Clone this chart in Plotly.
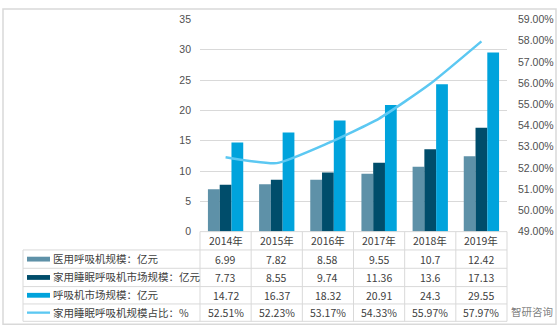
import plotly.graph_objects as go

years = ["2014年", "2015年", "2016年", "2017年", "2018年", "2019年"]
medical = [6.99, 7.82, 8.58, 9.55, 10.7, 12.42]
home_sleep = [7.73, 8.55, 9.74, 11.36, 13.6, 17.13]
market = [14.72, 16.37, 18.32, 20.91, 24.3, 29.55]
share = [52.51, 52.23, 53.17, 54.33, 55.97, 57.97]

names = ["医用呼吸机规模：亿元", "家用睡眠呼吸机市场规模：亿元", "呼吸机市场规模：亿元", "家用睡眠呼吸机规模占比：%"]
colors = ["#5E91A8", "#004D6B", "#00A3DC", "#5CC8F2"]

W, H = 559, 336
def py(p):
    return 1 - p / H
def px(p):
    return p / W

x0, x1 = 200, 507
y_top, y_bot = 14, 234
font_cjk = "Noto Sans CJK SC, Noto Sans, sans-serif"
txtc = "#404040"

fig = go.Figure()
series = [medical, home_sleep, market]
for i in range(3):
    fig.add_trace(go.Bar(x=years, y=series[i], name=names[i], marker=dict(color=colors[i], line=dict(width=0)),
                         showlegend=False))
fig.add_trace(go.Scatter(x=years, y=[v / 100 for v in share], yaxis="y2", mode="lines",
                         line=dict(color=colors[3], width=2.5, shape="spline", smoothing=0.5),
                         name=names[3], showlegend=False))

shapes = []
# outer border
shapes.append(dict(type="rect", xref="paper", yref="paper", x0=px(3), x1=px(556), y0=py(330), y1=py(3),
                   line=dict(color="#D9D9D9", width=1.5)))
# table lines
gc = "#D9D9D9"
row_lines = [253, 272, 291, 309, 327]
for r in row_lines:
    shapes.append(dict(type="line", xref="paper", yref="paper", x0=px(23), x1=px(x1), y0=py(r), y1=py(r),
                       line=dict(color=gc, width=1)))
shapes.append(dict(type="line", xref="paper", yref="paper", x0=px(x0), x1=px(x1), y0=py(y_bot), y1=py(y_bot),
                   line=dict(color=gc, width=1)))
shapes.append(dict(type="line", xref="paper", yref="paper", x0=px(23), x1=px(23), y0=py(253), y1=py(327),
                   line=dict(color=gc, width=1)))
n = len(years)
for k in range(n + 1):
    xx = x0 + (x1 - x0) * k / n
    shapes.append(dict(type="line", xref="paper", yref="paper", x0=px(xx), x1=px(xx), y0=py(y_bot), y1=py(327),
                       line=dict(color=gc, width=1)))

annotations = []
row_centers = [262.5, 281.5, 300, 318]
header_c = 243.5
for j, yr in enumerate(years):
    annotations.append(dict(x=yr, xref="x", y=py(header_c), yref="paper", text=yr, showarrow=False,
                            font=dict(family=font_cjk, size=10.5, color=txtc), xanchor="center", yanchor="middle"))
table_vals = [[f"{v}" for v in medical], [f"{v}" for v in home_sleep], [f"{v}" for v in market],
              [f"{v:.2f}%" for v in share]]
for i in range(4):
    for j, yr in enumerate(years):
        annotations.append(dict(x=yr, xref="x", y=py(row_centers[i]), yref="paper", text=table_vals[i][j],
                                showarrow=False, font=dict(family=font_cjk, size=10.5, color=txtc),
                                xanchor="center", yanchor="middle"))
    # legend key
    hh = 2.5 if i < 3 else 1.2
    shapes.append(dict(type="rect", xref="paper", yref="paper", x0=px(27), x1=px(50),
                       y0=py(row_centers[i] + hh), y1=py(row_centers[i] - hh),
                       fillcolor=colors[i], line=dict(width=0)))
    annotations.append(dict(x=px(51), xref="paper", y=py(row_centers[i] - 0.5), yref="paper", text=names[i],
                            showarrow=False, font=dict(family=font_cjk, size=10.5, color=txtc),
                            xanchor="left", yanchor="middle"))

# watermark (kept clear of the table values)
annotations.append(dict(x=px(532), xref="paper", y=py(317), yref="paper", text="智研咨询", showarrow=False,
                        font=dict(family=font_cjk, size=10.5, color="rgba(90,90,90,0.8)"),
                        xanchor="center", yanchor="middle"))

fig.update_layout(
    width=W, height=H, margin=dict(l=0, r=0, t=0, b=0),
    paper_bgcolor="white", plot_bgcolor="white",
    barmode="group", bargap=0.31, bargroupgap=0,
    xaxis=dict(domain=[px(x0), px(x1)], showticklabels=False, showgrid=False, zeroline=False, showline=False,
               ticks=""),
    yaxis=dict(domain=[py(y_bot), py(y_top)], range=[0, 35], dtick=5, showgrid=True, gridcolor="#D9D9D9",
               gridwidth=1, zeroline=False, showline=False, ticks="", ticklabelstandoff=8,
               tickfont=dict(family="Liberation Sans, Noto Sans, sans-serif", size=10.5, color="#505050")),
    yaxis2=dict(overlaying="y", side="right", range=[0.49, 0.59], dtick=0.01, tickformat=".2%", showgrid=False,
                zeroline=False, showline=False, ticks="", ticklabelstandoff=10,
                tickfont=dict(family="Liberation Sans, Noto Sans, sans-serif", size=10.5, color="#505050")),
    shapes=shapes, annotations=annotations, showlegend=False,
)

fig.write_html("out.html")
